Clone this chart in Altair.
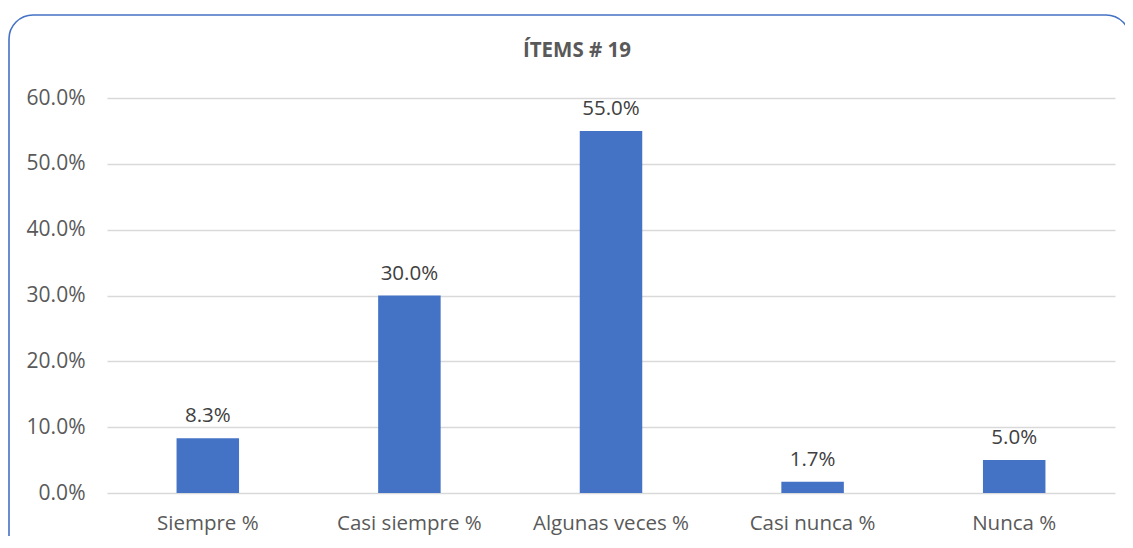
import altair as alt
import pandas as pd

categories = ["Siempre %", "Casi siempre %", "Algunas veces %", "Casi nunca %", "Nunca %"]
values = [0.083, 0.30, 0.55, 0.017, 0.05]
title_text = "ÍTEMS # 19"
y_ticks = [0.0, 0.1, 0.2, 0.3, 0.4, 0.5, 0.6]

df = pd.DataFrame({"cat": categories, "val": values})

FONT = "Open Sans"
BLUE = "#4472C4"
GRAY = "#595959"

x_enc = alt.X(
    "cat:N",
    sort=categories,
    title=None,
    scale=alt.Scale(paddingInner=0.69, paddingOuter=0.345),
    axis=alt.Axis(
        labelAngle=0,
        labelFont=FONT,
        labelFontSize=20.5,
        labelColor=GRAY,
        labelPadding=20,
        domain=False,
        ticks=False,
        grid=False,
    ),
)
y_enc = alt.Y(
    "val:Q",
    title=None,
    scale=alt.Scale(domain=[0, 0.6], nice=False, zero=True),
    axis=alt.Axis(
        values=y_ticks,
        format=".1%",
        labelFont=FONT,
        labelFontSize=21,
        labelColor=GRAY,
        labelPadding=22,
        domain=False,
        ticks=False,
        grid=True,
        gridColor="#D9D9D9",
        gridWidth=1.3,
    ),
)

base = alt.Chart(df)
bars = base.mark_bar(color=BLUE).encode(x=x_enc, y=y_enc)
labels = base.mark_text(
    font=FONT, fontSize=20.5, color="#404040", baseline="alphabetic", dy=-16
).encode(x=alt.X("cat:N", sort=categories), y="val:Q", text=alt.Text("val:Q", format=".1%"))

border = alt.Chart(alt.Data(values=[{"a": 1}])).mark_rect(
    fill=None, stroke=BLUE, strokeWidth=1.6, cornerRadius=24
).encode(
    x=alt.value(-98), x2=alt.value(1023), y=alt.value(-83), y2=alt.value(462)
)

title = alt.Chart(alt.Data(values=[{"t": title_text}])).mark_text(
    font=FONT, fontSize=20.5, fontWeight="bold", color=GRAY, baseline="alphabetic", align="center"
).encode(text="t:N", x=alt.value(470), y=alt.value(-41))

chart = alt.layer(border, bars, labels, title).properties(
    width=1008,
    height=395,
    padding={"left": 99, "top": 90, "right": 10, "bottom": 43},
    autosize=alt.AutoSizeParams(type="none"),
    background="white",
).configure_view(stroke=None)

chart.save("out.html", embed_options={"renderer": "svg", "actions": False})
